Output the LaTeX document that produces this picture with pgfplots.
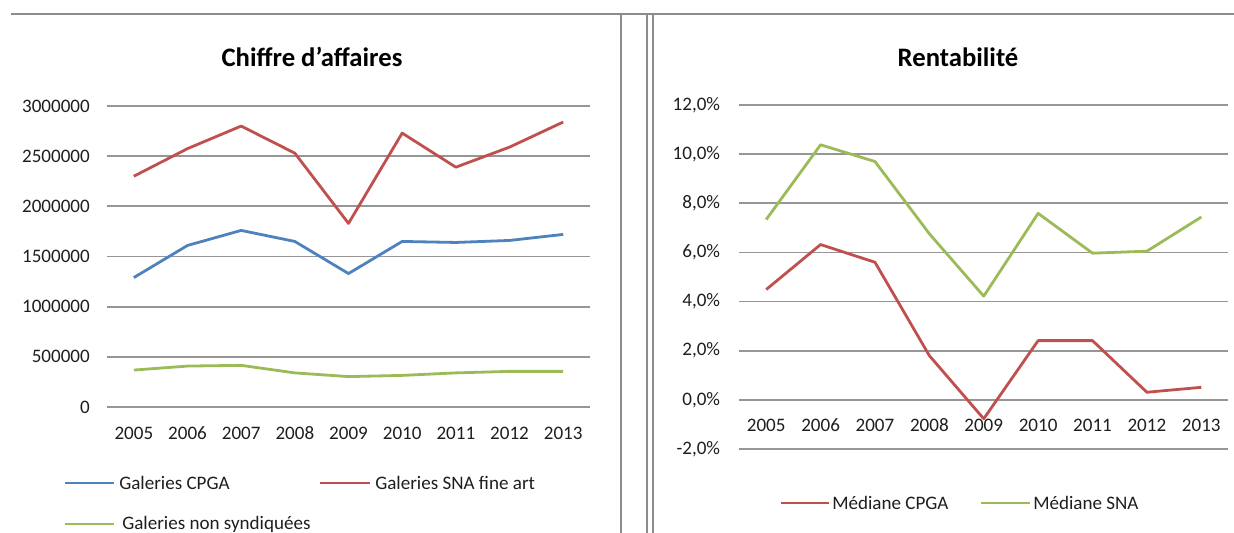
\documentclass[border=0pt]{standalone}
\usepackage{pgfplots}
\pgfplotsset{compat=1.18}
\usepackage{fontspec}
\setmainfont{Carlito}
\definecolor{cblue}{HTML}{4F81BD}
\definecolor{cred}{HTML}{C0504D}
\definecolor{cgreen}{HTML}{9BBB59}
\definecolor{grid}{RGB}{150,150,150}
\definecolor{sep}{RGB}{140,140,140}
\definecolor{txt}{RGB}{30,30,30}
\pgfplotsset{
  excel/.style={
    scale only axis,
    axis line style={draw=none},
    major tick length=0pt,
    tick style={draw=none},
    xmajorgrids=false,
    ymajorgrids=true,
    y grid style={grid, line width=1.3pt},
    xtick=data,
    xticklabels={2005,2006,2007,2008,2009,2010,2011,2012,2013},
    xmin=-0.5, xmax=8.5,
    every tick label/.append style={inner sep=0pt, font=\fontsize{14.3}{16}\selectfont, text=txt},
    /pgf/number format/assume math mode=true,
    every axis plot/.append style={line width=2.1pt, line join=round, mark=none},
  }
}
\begin{document}
\begin{tikzpicture}
\path[use as bounding box] (0,0) rectangle (925.5pt,399pt);
% left chart
\begin{axis}[excel,
  at={(80.25pt,93.75pt)}, anchor=south west,
  width=362.25pt, height=225.75pt,
  ymin=0, ymax=3000000,
  ytick={0,500000,1000000,1500000,2000000,2500000,3000000},
  scaled y ticks=false,
  /pgf/number format/fixed,
  /pgf/number format/1000 sep={},
  yticklabel style={anchor=east, xshift=-12.75pt},
  xticklabel style={anchor=base, yshift=-24pt},
]
\addplot[cblue] coordinates {(0,1290000)(1,1610000)(2,1760000)(3,1650000)(4,1330000)(5,1650000)(6,1640000)(7,1660000)(8,1720000)};
\addplot[cred] coordinates {(0,2300000)(1,2575000)(2,2800000)(3,2530000)(4,1830000)(5,2730000)(6,2390000)(7,2590000)(8,2840000)};
\addplot[cgreen] coordinates {(0,368000)(1,408000)(2,415000)(3,340000)(4,303000)(5,315000)(6,340000)(7,355000)(8,355000)};
\end{axis}
% right chart
\begin{axis}[excel,
  at={(554.25pt,62.25pt)}, anchor=south west,
  width=367.1pt, height=258pt,
  ymin=-2, ymax=12,
  ytick={-2,0,2,4,6,8,10,12},
  yticklabels={{-2,0\%},{0,0\%},{2,0\%},{4,0\%},{6,0\%},{8,0\%},{10,0\%},{12,0\%}},
  yticklabel style={anchor=east, xshift=-14pt},
  xticklabel style={anchor=base, yshift=13.5pt},
]
\addplot[cred] coordinates {(0,4.49)(1,6.32)(2,5.60)(3,1.80)(4,-0.77)(5,2.41)(6,2.41)(7,0.31)(8,0.51)};
\addplot[cgreen] coordinates {(0,7.34)(1,10.38)(2,9.70)(3,6.76)(4,4.22)(5,7.59)(6,5.97)(7,6.05)(8,7.44)};
\end{axis}
\begin{scope}[x=0.75pt,y=0.75pt]
% frame lines
\draw[sep, line width=1.6pt] (11,518) -- (1240,518);
\draw[sep, line width=1.1pt] (621,518) -- (621,-10);
\draw[sep, line width=1.1pt] (647,518) -- (647,-10);
\draw[sep, line width=1.1pt] (653,518) -- (653,-10);
% titles
\node[font=\fontsize{20}{22}\selectfont\bfseries] at (312,475) {Chiffre d’affaires};
\node[font=\fontsize{20}{22}\selectfont\bfseries] at (958,475) {Rentabilité};
% legends
\begin{scope}[every node/.style={anchor=west, inner sep=0pt, font=\fontsize{14.3}{16}\selectfont, text=txt}]
\draw[cblue, line width=2.1pt] (65,49) -- (114,49);
\node at (119,49) {Galeries CPGA};
\draw[cred, line width=2.1pt] (320,49) -- (370,49);
\node at (375,49) {Galeries SNA fine art};
\draw[cgreen, line width=2.1pt] (65,8) -- (114,8);
\node at (122,8) {Galeries non syndiquées};
\draw[cred, line width=2.1pt] (781,29) -- (829,29);
\node at (832,29) {Médiane CPGA};
\draw[cgreen, line width=2.1pt] (981,29) -- (1030,29);
\node at (1033,29) {Médiane SNA};
\end{scope}
\end{scope}
\end{tikzpicture}
\end{document}
